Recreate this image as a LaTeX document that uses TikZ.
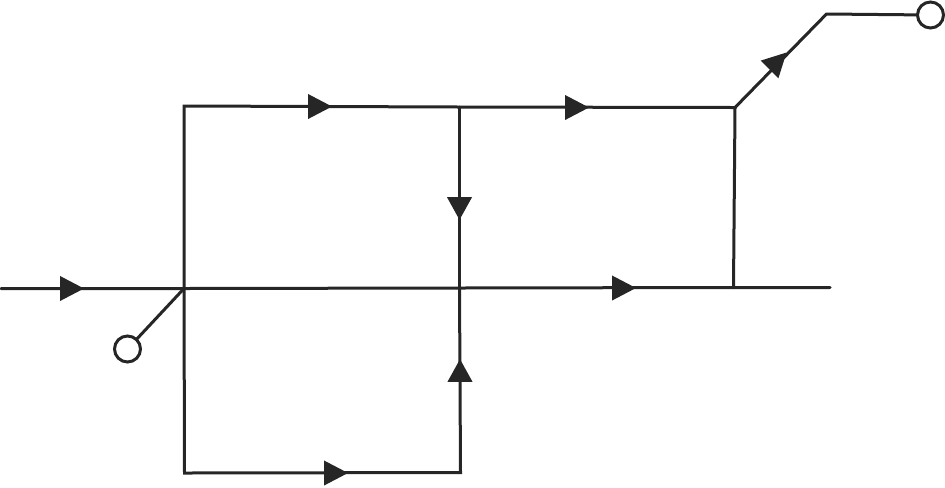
\documentclass[tikz,border=0pt]{standalone}
\tikzset{
 wire/.style={draw=black!85,line width=2.25pt,line cap=round,line join=miter},
 headmark/.style={fill=black!85,draw=none},
 term/.style={circle,draw=black!85,fill=white,line width=2.25pt,minimum size=19.5pt,inner sep=0pt},
}
\newcommand{\headat}[3]{\fill[headmark,shift={(#1)},rotate=#2] (-#3,9.4pt) -- (#3,0pt) -- (-#3,-9.4pt) -- cycle;}
\begin{document}
\begin{tikzpicture}[x=0.75pt,y=-0.75pt]
\useasboundingbox (0,0) rectangle (945,487);
\coordinate (inl) at (1,288.5);
\coordinate (J) at (184,288.5);
\coordinate (M) at (459.5,288);
\coordinate (R) at (733.5,287.5);
\coordinate (end) at (830,287.5);
\coordinate (TL) at (184,106);
\coordinate (TM) at (459.5,107);
\coordinate (TR) at (735,107.5);
\coordinate (BL) at (184.5,473);
\coordinate (BM) at (460.5,472.5);
\coordinate (S1) at (826.5,14);
\draw[wire] (inl) -- (J) -- (M) -- (R) -- (end);
\draw[wire] (J) -- (TL) -- (TM) -- (TR) -- (R);
\draw[wire] (J) -- (BL) -- (BM) -- (M);
\draw[wire] (TM) -- (M);
\draw[wire] (TR) -- (S1) -- (930.5,15);
\draw[wire] (J) -- (127.5,349);
\node[term] (t2) at (930.5,15) {};
\node[term] (t1) at (127.5,349) {};
\path (72,288.5) coordinate (h1) (320,106.5) coordinate (h2) (577,107.5) coordinate (h3)
 (624,288) coordinate (h4) (336,473) coordinate (h5) (459.5,208.5) coordinate (h6)
 (460,370.5) coordinate (h7) (778,61) coordinate (h8);
\headat{h1}{0}{9pt}
\headat{h2}{0}{9pt}
\headat{h3}{0}{9pt}
\headat{h4}{0}{9pt}
\headat{h5}{0}{9pt}
\headat{h6}{-90}{8.5pt}
\headat{h7}{90}{8.5pt}
\headat{h8}{45}{9pt}
\end{tikzpicture}
\end{document}
